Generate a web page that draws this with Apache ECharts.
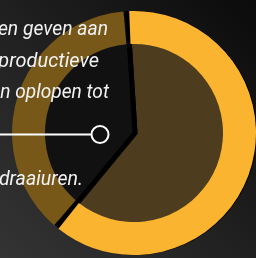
<!DOCTYPE html>
<html>
<head>
<meta charset="utf-8">
<script src="https://cdn.jsdelivr.net/npm/echarts@6/dist/echarts.min.js"></script>
<style>
    html, body { margin: 0; padding: 0; background: #1a1a1a; }
    #main { width: 256px; height: 258px; }
</style>
</head>
<body>
<div id="main"></div>
<script>
// 数据：两个扇区（亮黄 / 暗色）
var sliceNames = ['productief', 'overig'];
var sliceValues = [62, 38];
// 左侧说明文字（左边被裁掉）
var textLines = ['en geven aan', 'productieve', 'n oplopen tot', 'draaiuren.'];

var ringColors = ['#fbb430', '#785819'];
var innerColors = ['#4d3d1e', '#111111'];

function buildData(colors) {
    var list = [];
    for (var i = 0; i < sliceValues.length; i++) {
        list.push({
            name: sliceNames[i],
            value: sliceValues[i],
            itemStyle: { color: colors[i] }
        });
    }
    return list;
}

var textFont = "Roboto, 'DejaVu Sans', sans-serif";
var textPos = [[108, 30], [99, 62], [109, 93], [83, 180]];
var textScale = [0.92, 0.95, 0.91, 0.93];
var graphics = [];
for (var i = 0; i < textLines.length; i++) {
    graphics.push({
        type: 'text',
        z: 10,
        x: textPos[i][0],
        y: textPos[i][1],
        scaleX: textScale[i],
        style: {
            text: textLines[i],
            fill: '#f2f2f2',
            font: 'italic 21px ' + textFont,
            align: 'right',
            verticalAlign: 'middle'
        }
    });
}
// 指示线和小圆圈
graphics.push({
    type: 'line', z: 10,
    shape: { x1: -2, y1: 134.5, x2: 91, y2: 134.5 },
    style: { stroke: '#ffffff', lineWidth: 2 }
});
graphics.push({
    type: 'circle', z: 10,
    shape: { cx: 100, cy: 134.5, r: 8.5 },
    style: { fill: '#111111', stroke: '#ffffff', lineWidth: 2 }
});

var myChart = echarts.init(document.getElementById('main'), null, { renderer: 'canvas' });
var option = {
    animation: false,
    backgroundColor: new echarts.graphic.LinearGradient(0, 1, 1, 0, [
        { offset: 0, color: '#343434' },
        { offset: 1, color: '#0b0b0b' }
    ]),
    series: [
        {
            // 内部饼图，黑色边框形成分隔线
            type: 'pie',
            z: 1,
            center: [135, 133],
            radius: [0, 119.5],
            startAngle: 93.6,
            silent: true,
            label: { show: false },
            labelLine: { show: false },
            itemStyle: { borderColor: '#000000', borderWidth: 5 },
            data: buildData(innerColors)
        },
        {
            // 外环
            type: 'pie',
            z: 2,
            center: [134, 133],
            radius: [89, 122],
            startAngle: 93.6,
            padAngle: 2.7,
            silent: true,
            label: { show: false },
            labelLine: { show: false },
            data: buildData(ringColors)
        }
    ],
    graphic: graphics
};
myChart.setOption(option);
</script>
</body>
</html>
